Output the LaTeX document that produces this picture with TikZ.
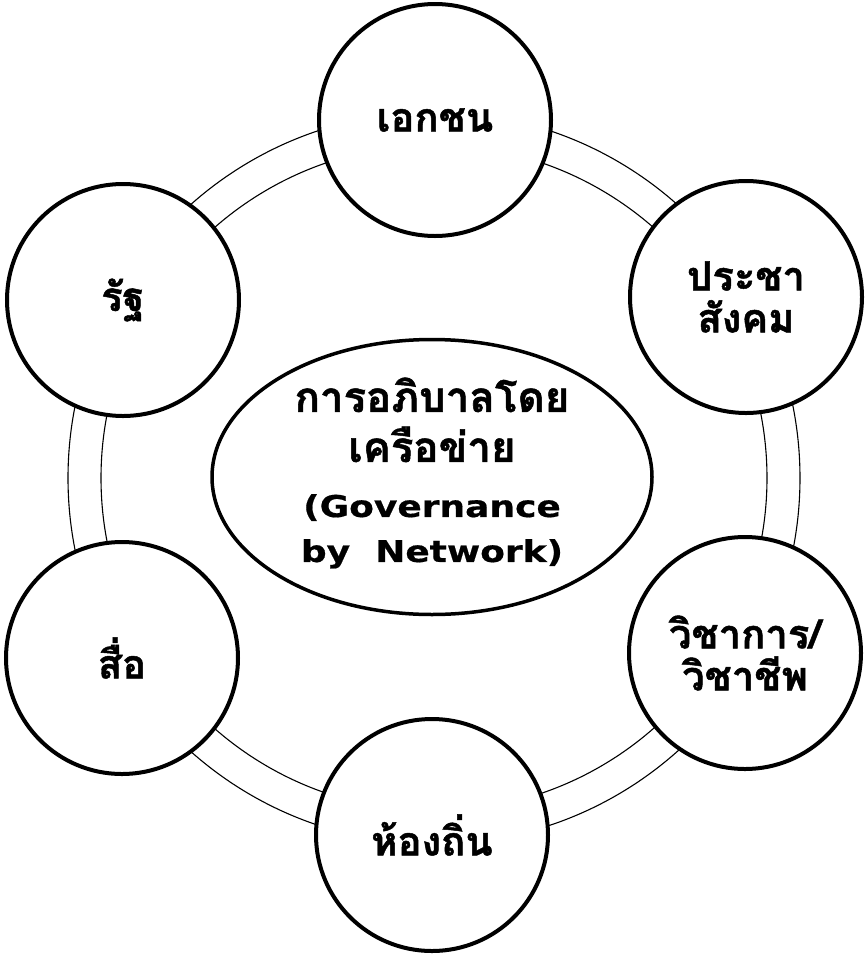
\documentclass[tikz,border=0pt]{standalone}
\usepackage{fontspec}
\newfontfamily\thaifont[Script=Thai,BoldFeatures={FakeBold=1.2}]{Loma}
\newfontfamily\engfont[FakeStretch=1.2,BoldFeatures={FakeBold=0.6}]{DejaVu Sans}
\usetikzlibrary{shapes.geometric}
\newcommand\thb{\thaifont\bfseries\fontsize{42}{45}\selectfont}
\newcommand\enb{\engfont\bfseries\fontsize{30}{45}\selectfont}
\tikzset{
  party/.style={circle, draw=black, line width=4pt, fill=white, minimum size=232pt, inner sep=0pt, align=center,
    font=\thaifont\bfseries\fontsize{40}{40}\selectfont},
  hub/.style={ellipse, draw=black, line width=3.5pt, fill=white, minimum width=440pt, minimum height=275pt, inner sep=0pt},
  hubtext/.style={align=center, inner sep=0pt, font=\thb},
  ringline/.style={draw=black, line width=1.1pt}
}
\begin{document}
\begin{tikzpicture}[x=1pt,y=-1pt]
\useasboundingbox (0,0) rectangle (866,954);
\fill[white] (0,0) rectangle (866,954);
\coordinate (c) at (434,478);
\draw[ringline] (c) circle[radius=366];
\draw[ringline] (c) circle[radius=333];
\node[hub] (hub) at (432,477) {};
\node[hubtext] (hubtxt) at ([yshift=4pt]hub.center) {การอภิบาลโดย\\[5pt] เครือข่าย\\[10pt] \enb (Governance\\ \enb by~~Network)};
\node[party] (pvt) at (435,120) {เอกชน};
\node[party] (civ) at (746,297) {ประชา\\[2pt]สังคม};
\node[party] (aca) at ([yshift=4pt]745,657) {วิชาการ/\\[2pt]วิชาชีพ};
\node[party] (loc) at (432,835) {ห้องถิ่น};
\node[party] (med) at (122,658) {สื่อ};
\node[party] (gov) at (123,300) {รัฐ};
\end{tikzpicture}
\end{document}
